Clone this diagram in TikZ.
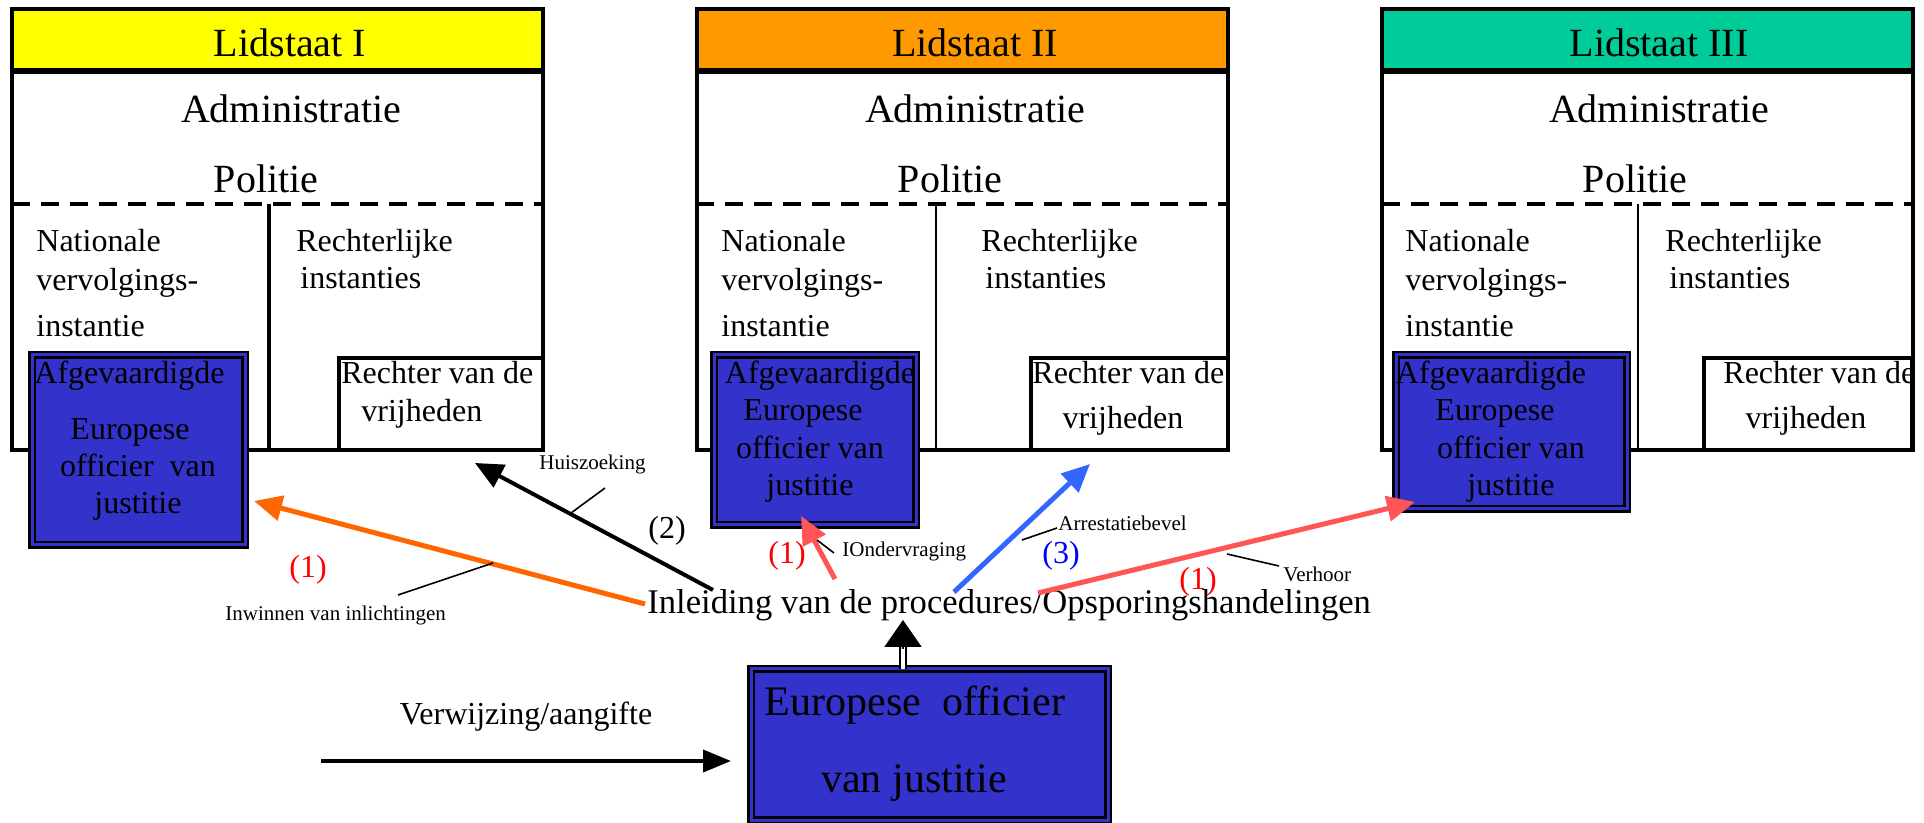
\documentclass[tikz,border=0pt]{standalone}
\usepackage{fontspec}
\setmainfont{Liberation Serif}
\usetikzlibrary{positioning,calc,arrows.meta}

\definecolor{lidgeel}{RGB}{255,255,0}
\definecolor{lidoranje}{RGB}{255,153,0}
\definecolor{lidgroen}{RGB}{0,204,153}
\definecolor{eojblauw}{RGB}{51,51,204}
\definecolor{pijloranje}{RGB}{255,102,0}
\definecolor{pijlrood}{RGB}{255,85,85}
\definecolor{pijlblauw}{RGB}{51,102,255}

\tikzset{
  kop/.style={draw, line width=2pt, inner sep=0pt, outer sep=0pt, minimum width=265.5pt, minimum height=30.5pt},
  vak/.style={draw, line width=2pt, inner sep=0pt, outer sep=0pt, minimum width=265.5pt, minimum height=189pt},
  rechter/.style={draw, fill=white, line width=2pt, inner sep=0pt, outer sep=0pt, minimum height=46pt, anchor=north west},
  afg/.style={draw=black, fill=eojblauw, double=eojblauw, double distance=1.5pt, line width=1.3pt, inner sep=0pt, outer sep=0pt, anchor=north west},
  groot/.style={font=\fontsize{20}{24}\selectfont, inner sep=0pt, anchor=base},
  midden/.style={font=\fontsize{16}{19}\selectfont, inner sep=0pt, anchor=base west},
  klein/.style={font=\fontsize{10.5}{12}\selectfont, inner sep=0pt, anchor=base west},
  nummer/.style={font=\fontsize{16}{19}\selectfont, inner sep=0pt, anchor=base},
  pijl/.style={line width=2.5pt, -{Triangle[length=14pt,width=12.5pt]}},
  wijzer/.style={line width=0.8pt},
  streep/.style={line width=2pt, dash pattern=on 9pt off 5.5pt},
}

\begin{document}
\begin{tikzpicture}[x=0.5pt, y=-0.5pt]
        \useasboundingbox (0,0) rectangle (1924,823);
        % Lidstaat I
        \node[kop, fill=lidgeel] (kop1) at (277.5,39.5) {};
        \node[groot] (titel1) at (290,57) {Lidstaat I};
        \node[vak, below=1pt of kop1] (vak1) {};
        \node[groot] (adm1) at (291,123) {Administratie};
        \node[groot] (pol1) at (266,193) {Politie};
        \draw[streep] (12,204) -- (543,204);
        \draw[line width=2pt] (269,204) -- (269,450);
        \node[midden] (nat1) at (36,252) {Nationale};
        \node[midden] (verv1) at (36,291) {vervolgings-};
        \node[midden] (inst1) at (36,337) {instantie};
        \node[midden] (recht1) at (296,252) {Rechterlijke};
        \node[midden] (instan1) at (300,289) {instanties};
        \node[rechter, minimum width=102pt] (rvdv1) at (339,358) {};
        \node[midden] (rvdv1a) at (341,384) {Rechter van de};
        \node[midden] (rvdv1b) at (361,422) {vrijheden};
        \node[afg, minimum width=106.5pt, minimum height=95pt] (afg1) at (32,355) {};
        \node[midden] (afg1a) at (34,384) {Afgevaardigde};
        \node[nummer] (afg1b) at (130,440) {Europese};
        \node[nummer] (afg1c) at (138,477) {officier\ \ van};
        \node[nummer] (afg1d) at (138,514) {justitie};
        %
        % Lidstaat II
        \node[kop, fill=lidoranje] (kop2) at (962,39.5) {};
        \node[groot] (titel2) at (975,57) {Lidstaat II};
        \node[vak, below=1pt of kop2] (vak2) {};
        \node[groot] (adm2) at (975,123) {Administratie};
        \node[groot] (pol2) at (950,193) {Politie};
        \draw[streep] (696,204) -- (1228,204);
        \draw[line width=1pt] (936,204) -- (936,450);
        \node[midden] (nat2) at (721,252) {Nationale};
        \node[midden] (verv2) at (721,291) {vervolgings-};
        \node[midden] (inst2) at (721,337) {instantie};
        \node[midden] (recht2) at (981,252) {Rechterlijke};
        \node[midden] (instan2) at (985,289) {instanties};
        \node[rechter, minimum width=98.5pt] (rvdv2) at (1031,358) {};
        \node[midden] (rvdv2a) at (1032,384) {Rechter van de};
        \node[nummer] (rvdv2b) at (1123,429) {vrijheden};
        \node[afg, minimum width=101pt, minimum height=85pt] (afg2) at (714,355) {};
        \node[nummer] (afg2a) at (820,384) {Afgevaardigde};
        \node[nummer] (afg2b) at (803,421) {Europese};
        \node[nummer] (afg2c) at (810,459) {officier van};
        \node[nummer] (afg2d) at (810,496) {justitie};
        %
        % Lidstaat III
        \node[kop, fill=lidgroen] (kop3) at (1647,39.5) {};
        \node[groot] (titel3) at (1659,57) {Lidstaat III};
        \node[vak, below=1pt of kop3] (vak3) {};
        \node[groot] (adm3) at (1659,123) {Administratie};
        \node[groot] (pol3) at (1635,193) {Politie};
        \draw[streep] (1382,204) -- (1912,204);
        \draw[line width=1pt] (1638,204) -- (1638,450);
        \node[midden] (nat3) at (1405,252) {Nationale};
        \node[midden] (verv3) at (1405,291) {vervolgings-};
        \node[midden] (inst3) at (1405,337) {instantie};
        \node[midden] (recht3) at (1665,252) {Rechterlijke};
        \node[midden] (instan3) at (1669,289) {instanties};
        \node[rechter, minimum width=104pt] (rvdv3) at (1704,358) {};
        \node[midden] (rvdv3a) at (1723,384) {Rechter van de};
        \node[nummer] (rvdv3b) at (1806,429) {vrijheden};
        \node[afg, minimum width=115.5pt, minimum height=77pt] (afg3) at (1396,355) {};
        \node[nummer] (afg3a) at (1491,384) {Afgevaardigde};
        \node[nummer] (afg3b) at (1495,421) {Europese};
        \node[nummer] (afg3c) at (1511,459) {officier van};
        \node[nummer] (afg3d) at (1511,496) {justitie};
        %
        % Europese officier van justitie
        \node[font=\fontsize{17.3}{21}\selectfont, inner sep=0pt, anchor=base west] (inleiding) at (647,614) {Inleiding van de procedures/Opsporingshandelingen};
        \node[afg, minimum width=178.5pt, minimum height=75.5pt] (eoj) at (751,669) {};
        \node[font=\fontsize{21}{25}\selectfont, inner sep=0pt, anchor=base] (eoj1) at (915,716) {Europese\ \ officier};
        \node[font=\fontsize{21}{25}\selectfont, inner sep=0pt, anchor=base] (eoj2) at (914,792) {van justitie};
        \node[nummer] (verwijzing) at (526,725) {Verwijzing/aangifte};
        \coordinate (bron) at (321,761);
        %
        \node[klein] (huiszoeking) at (539,470) {Huiszoeking};
        \node[klein] (inwinnen) at (225,621) {Inwinnen van inlichtingen};
        \node[klein] (ondervraging) at (842,557) {IOndervraging};
        \node[klein] (arrestatie) at (1058,531) {Arrestatiebevel};
        \node[klein] (verhoor) at (1283,582) {Verhoor};
        \node[nummer, text=red] (nr1a) at (308,578) {(1)};
        \node[nummer] (nr2) at (667,539) {(2)};
        \node[nummer, text=red] (nr1b) at (787,564) {(1)};
        \node[nummer, text=blue] (nr3) at (1061,564) {(3)};
        \node[nummer, text=red] (nr1c) at (1198,589) {(1)};
        %
        \draw[line width=2pt, -{Triangle[length=14pt,width=11pt]}, shorten >=10pt] (bron) -- (bron -| eoj.west);
        \draw[line width=1pt, double, double distance=2pt] ($(eoj.north west)+(152,0)$) -- ($(eoj.north west)+(152,-22)$);
        \draw[line width=1pt, -{Triangle[length=13.5pt,width=18.5pt]}] ($(eoj.north west)+(152,-20)$) -- ($(inleiding.base west)+(256,6)$);
        \draw[pijl, draw=pijloranje] ($(inleiding.base west)+(-2,-10)$) -- ($(afg1.south east)+(9,-44)$);
        \draw[pijl, line width=2pt] ($(inleiding.base west)+(66,-24)$) -- ($(rvdv1.south west)+(136,13)$);
        \draw[pijl, draw=pijlrood] ($(inleiding.base west)+(188,-35)$) -- ($(afg2.south)+(-14,-9)$);
        \draw[pijl, draw=pijlblauw] ($(inleiding.base west)+(307,-22)$) -- ($(rvdv2.south west)+(59,14)$);
        \draw[pijl, draw=pijlrood] ($(inleiding.base west)+(391,-21)$) -- ($(afg3.south west)+(19,-7)$);
        %
        \draw[wijzer] ($(huiszoeking.base west)+(66,18)$) -- ++(-34,25);
        \draw[wijzer] ($(inwinnen.base west)+(173,-26)$) -- ++(95,-32);
        \draw[wijzer] ($(ondervraging.base west)+(-8,-4)$) -- ++(-17,-13);
        \draw[wijzer] ($(arrestatie.base west)+(-1,-3)$) -- ++(-35,12);
        \draw[wijzer] ($(verhoor.base west)+(-4,-16)$) -- ++(-52,-12);
\end{tikzpicture}
\end{document}
